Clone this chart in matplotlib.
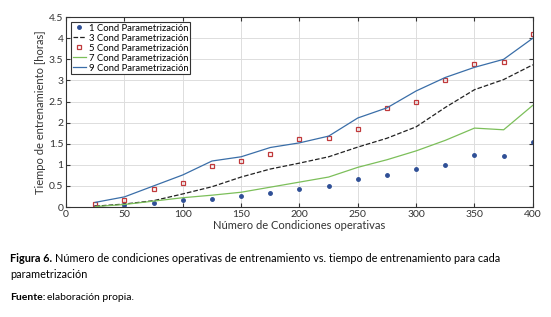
import matplotlib
matplotlib.use("Agg")
import matplotlib.pyplot as plt

plt.rcParams["font.family"] = ["Lato", "DejaVu Sans"]

n_cond = [25, 50, 75, 100, 125, 150, 175, 200, 225, 250, 275, 300, 325, 350, 375, 400]
cond1 = [0.01, 0.04, 0.09, 0.16, 0.20, 0.25, 0.32, 0.43, 0.49, 0.66, 0.76, 0.89, 1.00, 1.24, 1.21, 1.55]
cond3 = [0.02, 0.07, 0.15, 0.31, 0.48, 0.71, 0.90, 1.04, 1.19, 1.42, 1.63, 1.90, 2.36, 2.78, 3.02, 3.37]
cond5 = [0.06, 0.17, 0.43, 0.58, 0.97, 1.08, 1.25, 1.62, 1.64, 1.84, 2.35, 2.48, 3.00, 3.39, 3.43, 4.10]
cond7 = [0.01, 0.06, 0.14, 0.22, 0.28, 0.35, 0.47, 0.59, 0.71, 0.94, 1.12, 1.33, 1.58, 1.87, 1.83, 2.41]
cond9 = [0.11, 0.24, 0.50, 0.76, 1.09, 1.19, 1.41, 1.52, 1.68, 2.11, 2.35, 2.75, 3.07, 3.31, 3.50, 4.00]

caption_lead = "Figura 6."
caption_body = "Número de condiciones operativas de entrenamiento vs. tiempo de entrenamiento para cada"

fig = plt.figure(figsize=(5.51, 3.17), dpi=100)
ax = fig.add_axes([0.120, 0.347, 0.847, 0.599])

ax.plot(n_cond, cond1, ".", color="#2f4f96", ms=5, label="1 Cond Parametrización")
ax.plot(n_cond, cond3, "--", color="#222222", lw=0.9, label="3 Cond Parametrización")
ax.plot(n_cond, cond5, "s", color="#c0393b", mfc="none", ms=3, mew=0.9, label="5 Cond Parametrización")
ax.plot(n_cond, cond7, "-", color="#7cbf5a", lw=0.9, label="7 Cond Parametrización")
ax.plot(n_cond, cond9, "-", color="#3a6ea8", lw=0.9, label="9 Cond Parametrización")

ax.set_xlim(0, 400)
ax.set_ylim(0, 4.5)
ax.set_xticks(range(0, 401, 50))
ax.set_yticks([0, 0.5, 1, 1.5, 2, 2.5, 3, 3.5, 4, 4.5])
ax.set_yticklabels(["0", "0.5", "1", "1.5", "2", "2.5", "3", "3.5", "4", "4.5"])
ax.grid(True, color="#dddddd", lw=0.7)
ax.set_axisbelow(True)
ax.tick_params(direction="in", top=True, right=True, labelsize=7.5, length=3, color="#333333", pad=2,
               labelcolor="#333333")
for s in ax.spines.values():
    s.set_color("#333333")
    s.set_linewidth(0.8)
ax.set_xlabel("Número de Condiciones operativas", fontsize=8, labelpad=1, color="#333333")
ax.set_ylabel("Tiempo de entrenamiento [horas]", fontsize=8, labelpad=2, color="#333333")

leg = ax.legend(loc="upper left", fontsize=6.8, frameon=True, fancybox=False,
                handlelength=1.4, handletextpad=0.3, borderpad=0.2, labelspacing=0.1,
                borderaxespad=0.5)
leg.get_frame().set_edgecolor("#333333")
leg.get_frame().set_linewidth(0.8)
leg.get_frame().set_alpha(1)

# caption, sized so the first line ends near x=497 px like the reference
fig.canvas.draw()
renderer = fig.canvas.get_renderer()
fs = 9
y1 = 1 - 258 / 317
t1 = fig.text(10 / 551, y1, caption_lead, fontsize=fs, fontweight="bold", va="center")
w1 = t1.get_window_extent(renderer).width
t1b = fig.text((10 + w1 + 3) / 551, y1, caption_body, fontsize=fs, va="center")
total = w1 + 3 + t1b.get_window_extent(renderer).width
if total > 487:
    fs = fs * 487 / total
    t1.set_fontsize(fs)
    t1b.set_fontsize(fs)
    w1 = t1.get_window_extent(renderer).width
    t1b.set_x((10 + w1 + 3) / 551)
fig.text(10 / 551, 1 - 274 / 317, "parametrización", fontsize=fs, va="center")
t2 = fig.text(10 / 551, 1 - 297 / 317, "Fuente:", fontsize=7.5, fontweight="bold", va="center")
w2 = t2.get_window_extent(renderer).width
fig.text((10 + w2 + 2) / 551, 1 - 297 / 317, "elaboración propia.", fontsize=7.5, va="center")

fig.savefig("out.png", dpi=100)
